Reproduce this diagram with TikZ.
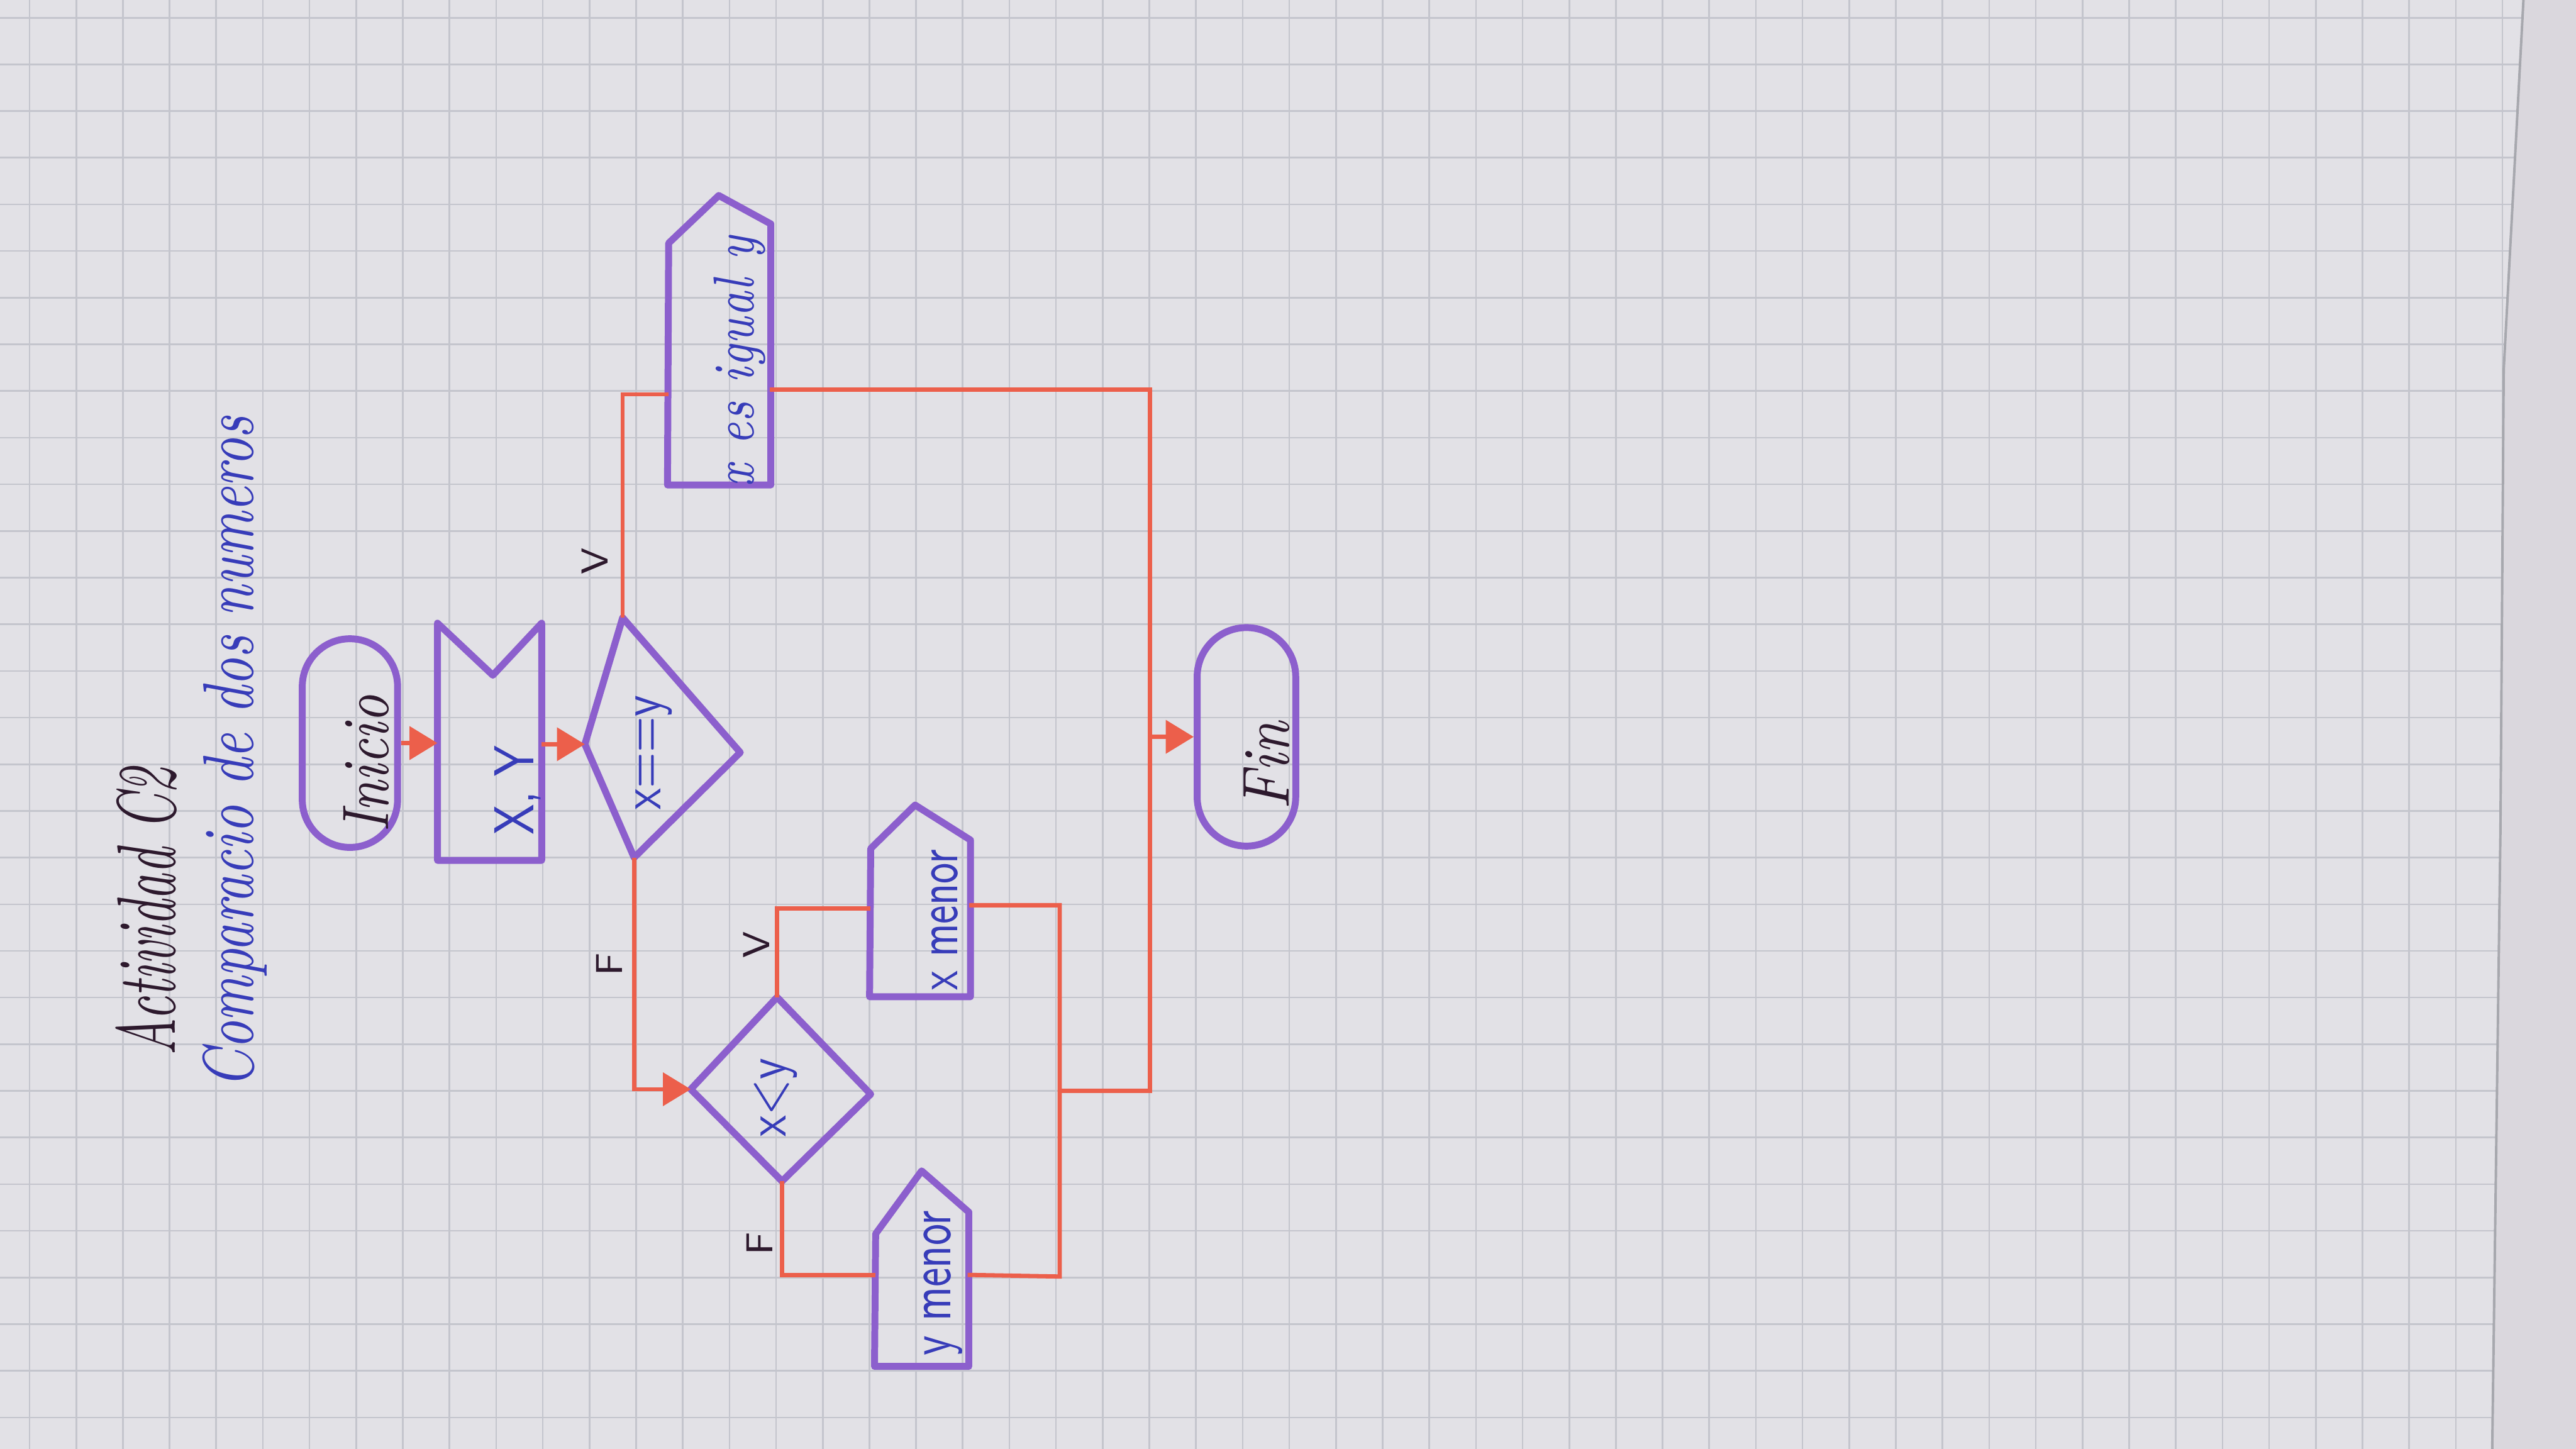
\documentclass[tikz,border=0pt]{standalone}
\usepackage{graphicx}
\usetikzlibrary{arrows.meta,calc}
\definecolor{paper}{RGB}{226,225,230}
\definecolor{paperout}{RGB}{218,215,221}
\definecolor{gridc}{RGB}{196,197,205}
\definecolor{violetpen}{RGB}{140,95,205}
\definecolor{redline}{RGB}{236,95,75}
\definecolor{inkblue}{RGB}{55,60,185}
\definecolor{inkdark}{RGB}{45,25,45}
\begin{document}
\begin{tikzpicture}[x=0.1mm,y=-0.1mm,
  shapeline/.style={draw=violetpen, line width=0.42mm, line join=round, line cap=round},
  flow/.style={draw=redline, line width=0.26mm},
  arr/.style={flow, -{Triangle[length=1.7mm,width=2.0mm]}},
  box/.style={rectangle, inner sep=0pt, draw=none},
  lbl/.style={rotate=90, inner sep=0pt},
  blue/.style={lbl, text=inkblue},
  dark/.style={lbl, text=inkdark}]
\useasboundingbox (0,0) rectangle (1568,882);
% paper
\fill[paperout] (0,0) rectangle (1568,882);
\fill[paper] (0,0) -- (1536,0) -- (1524,225) -- (1522,506) -- (1517,882) -- (0,882) -- cycle;
\begin{scope}
  \clip (0,0) -- (1536,0) -- (1524,225) -- (1522,506) -- (1517,882) -- (0,882) -- cycle;
  \foreach \i in {0,...,54} \draw[gridc, line width=0.1mm] (18+28.4*\i,0) -- (18+28.4*\i,882);
  \foreach \j in {0,...,31} \draw[gridc, line width=0.1mm] (0,10.8+28.4*\j) -- (1568,10.8+28.4*\j);
\end{scope}
\draw[gridc!85!black, line width=0.15mm] (1536,0) -- (1524,225) -- (1522,506) -- (1517,882);

% titles
\node[dark] (title) at (89,555) {\scalebox{0.95}[1.6]{\fontsize{9}{10}\selectfont\itshape Actividad C2}};
\node[blue] (subtitle) at (143,458) {\scalebox{1}[1.35]{\fontsize{9.2}{10}\selectfont\itshape Comparacio de dos numeros}};

% Inicio
\node[box, shapeline, rounded corners=2.9mm, minimum width=5.8mm, minimum height=12.7mm] (inicio) at (213,452.3) {};
\node[dark] (tinicio) at (223,465) {\scalebox{1}[1.25]{\fontsize{9.1}{10}\selectfont\itshape Inicio}};

% X, Y input
\node[box, minimum width=6.2mm, minimum height=14.3mm] (xy) at (298,451.5) {};
\coordinate (xyn) at (300,411);
\draw[shapeline] (xy.north west) -- (xyn) -- (xy.north east) -- (xy.south east) -- (xy.south west) -- cycle;
\node[blue] (txy) at (315,481) {\scalebox{1}[1.3]{\fontsize{7.5}{9}\selectfont\sffamily X, Y}};

% decision x==y
\coordinate (d1t) at (379,376);
\coordinate (d1r) at (450.6,458);
\coordinate (d1b) at (386,522);
\coordinate (d1l) at (356,453);
\draw[shapeline] (d1t) -- (d1r) -- (d1b) -- (d1l) -- cycle;
\node[blue] (td1) at (398,458) {\scalebox{1}[1.3]{\fontsize{7.5}{9}\selectfont\sffamily x==y}};

% x es igual y
\node[box, minimum width=6.15mm, minimum height=15.75mm] (eq) at (437.75,215.75) {};
\coordinate (eqA) at (437.5,119);
\coordinate (eqLS) at (407,148);
\draw[shapeline] (eq.south west) -- (eq.south east) -- (eq.north east) -- (eqA) -- (eqLS) -- cycle;
\node[blue] (teq) at (450,220) {\scalebox{1}[1.35]{\fontsize{7.4}{9}\selectfont\itshape x es igual y}};
\coordinate (eqIn) at (407,240);
\coordinate (eqOut) at (468.5,237);

% decision x<y
\coordinate (d2t) at (473,607);
\coordinate (d2r) at (530,666);
\coordinate (d2b) at (476,719);
\coordinate (d2l) at (420.5,663);
\draw[shapeline] (d2t) -- (d2r) -- (d2b) -- (d2l) -- cycle;
\node[blue] (td2) at (472,668) {\scalebox{1}[1.3]{\fontsize{7.5}{9}\selectfont\sffamily x<y}};

% x menor
\node[box, minimum width=6mm, minimum height=9.4mm] (xm) at (560,559) {};
\coordinate (xmA) at (557,490);
\coordinate (xmLS) at (530,516.5);
\draw[shapeline] (xm.south west) -- (xm.south east) -- (xm.north east) -- (xmA) -- (xmLS) -- cycle;
\node[blue] (txm) at (575,560) {\scalebox{1}[1.45]{\fontsize{6.8}{8}\selectfont\sffamily x menor}};
\coordinate (xmIn) at (530,553);
\coordinate (xmOut) at (590,551);

% y menor
\node[box, minimum width=5.6mm, minimum height=9.25mm] (ym) at (561,784.75) {};
\coordinate (ymA) at (561,712.7);
\coordinate (ymLS) at (533,751);
\draw[shapeline] (ym.south west) -- (ym.south east) -- (ym.north east) -- (ymA) -- (ymLS) -- cycle;
\node[blue] (tym) at (574,781) {\scalebox{1}[1.45]{\fontsize{7}{8}\selectfont\sffamily y menor}};
\coordinate (ymIn) at (533,776);
\coordinate (ymOut) at (589,776);

% Fin
\node[box, shapeline, rounded corners=3mm, minimum width=6mm, minimum height=13.3mm] (fin) at (758.7,448.5) {};
\node[dark] (tfin) at (771,466) {\scalebox{1}[1.15]{\fontsize{10}{11}\selectfont\itshape Fin}};

% junction points
\coordinate (jTop) at (700,237);
\coordinate (jMid) at (700,664);
\coordinate (m1) at (645,551);
\coordinate (m2) at (645,777);
\coordinate (m3) at (645,664);

% connectors
\draw[arr] (inicio.east) -- (inicio.east -| xy.west);
\draw[arr] (xy.east |- d1l) -- (d1l);
\draw[flow] (d1t) -- (d1t |- eqIn) -- (eqIn);
\draw[arr] (d1b) -- (d1b |- d2l) -- (d2l);
\draw[flow] (d2t) -- (d2t |- xmIn) -- (xmIn);
\draw[flow] (d2b) -- (d2b |- ymIn) -- (ymIn);
\draw[flow] (eqOut) -- (jTop) -- (jMid) -- (m3);
\draw[flow] (xmOut) -- (m1) -- (m2) -- (ymOut);
\draw[arr] (fin.west -| jTop) -- (fin.west);

% branch labels
\node[dark] (lv1) at (362,341.5) {\fontsize{6.5}{7}\selectfont\sffamily V};
\node[dark] (lf1) at (371,587) {\fontsize{6.5}{7}\selectfont\sffamily F};
\node[dark] (lv2) at (460.5,575) {\fontsize{6.5}{7}\selectfont\sffamily V};
\node[dark] (lf2) at (462.5,757) {\fontsize{6.5}{7}\selectfont\sffamily F};
\end{tikzpicture}
\end{document}
